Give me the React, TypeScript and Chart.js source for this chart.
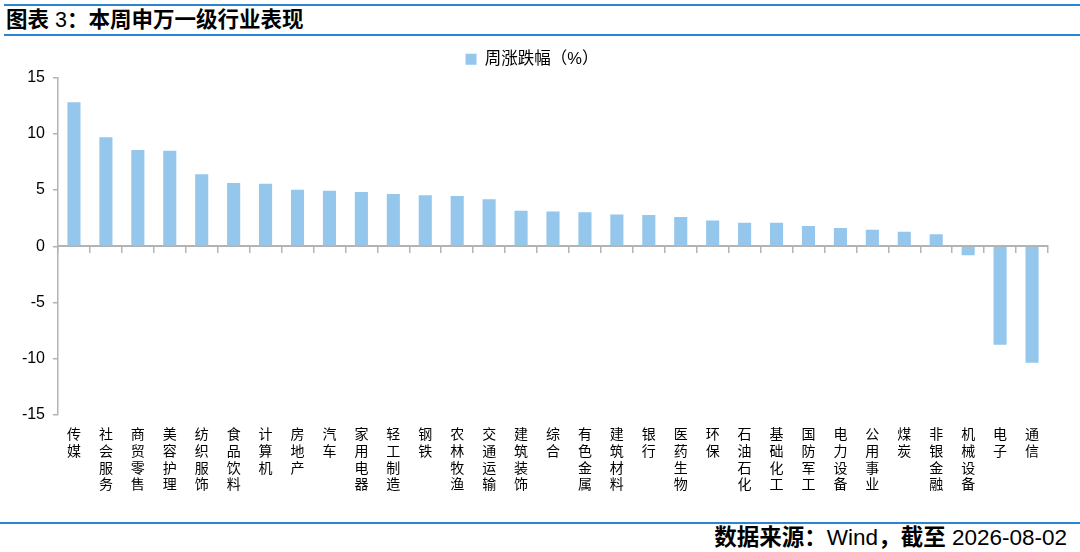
import React, { useEffect, useRef } from 'react';
import { Chart, registerables } from 'chart.js';

Chart.register(...registerables);

const categories = ['传媒', '社会服务', '商贸零售', '美容护理', '纺织服饰', '食品饮料', '计算机', '房地产', '汽车', '家用电器', '轻工制造', '钢铁', '农林牧渔', '交通运输', '建筑装饰', '综合', '有色金属', '建筑材料', '银行', '医药生物', '环保', '石油石化', '基础化工', '国防军工', '电力设备', '公用事业', '煤炭', '非银金融', '机械设备', '电子', '通信'];
const weeklyChange = [12.8, 9.68, 8.56, 8.5, 6.41, 5.62, 5.56, 5.03, 4.94, 4.83, 4.65, 4.54, 4.47, 4.18, 3.15, 3.09, 3.03, 2.82, 2.77, 2.59, 2.29, 2.09, 2.08, 1.8, 1.62, 1.47, 1.3, 1.06, -0.79, -8.76, -10.35];
const yTicks = [-15, -10, -5, 0, 5, 10, 15];
const seriesName = '周涨跌幅（%）';
const titleText = '图表 3：本周申万一级行业表现';
const sourceText = '数据来源：Wind，截至 2026-08-02';

const FONT = '"Liberation Sans", "Noto Sans CJK SC", sans-serif';
const BLUE = '#2a86d2';
const AXIS = '#b3b3b3';

function MixedText({ text }: { text: string }) {
  const parts = text.split(/([\u3000-\u9fff\uff00-\uffef]+)/).filter((p) => p.length > 0);
  return (
    <>
      {parts.map((p, i) => (
        <span key={i} style={{ fontWeight: /[\u3000-\u9fff\uff00-\uffef]/.test(p) ? 'bold' : 'normal' }}>
          {p}
        </span>
      ))}
    </>
  );
}

export default function App() {
  const canvasRef = useRef<HTMLCanvasElement | null>(null);

  useEffect(() => {
    document.body.style.margin = '0';
    const canvas = canvasRef.current;
    if (!canvas) return;
    Chart.defaults.font.family = FONT;
    const chart = new Chart(canvas, {
      type: 'bar',
      data: {
        labels: categories.map((c) => Array.from(c)),
        datasets: [
          {
            label: seriesName,
            data: weeklyChange,
            backgroundColor: '#95c6ec',
            borderWidth: 0,
            barPercentage: 0.41,
            categoryPercentage: 1,
            xAxisID: 'x',
            yAxisID: 'y',
          },
        ],
      },
      options: {
        responsive: false,
        animation: false,
        devicePixelRatio: 1,
        layout: { padding: { left: 16, right: 32, top: 1, bottom: 0 } },
        plugins: {
          legend: {
            display: true,
            position: 'top',
            labels: {
              boxWidth: 11,
              boxHeight: 11,
              padding: 10,
              color: '#000',
              font: { size: 16.5, family: FONT },
            },
          },
          tooltip: { enabled: false },
        },
        scales: {
          x: {
            type: 'category',
            position: 'bottom',
            offset: true,
            grid: { display: false, drawTicks: false },
            border: { display: false },
            ticks: {
              color: '#000',
              font: { size: 14, lineHeight: 1.19, family: FONT },
              padding: 12,
              maxRotation: 0,
              minRotation: 0,
              autoSkip: false,
            },
            afterFit: (s: any) => {
              s.height = 105;
            },
          },
          x2: {
            type: 'category',
            position: { y: 0 } as any,
            offset: true,
            grid: {
              offset: true,
              drawOnChartArea: false,
              drawTicks: true,
              tickLength: 6,
              color: AXIS,
              lineWidth: 1.5,
            },
            border: { display: true, color: AXIS, width: 2 },
            ticks: { display: false },
          },
          y: {
            type: 'linear',
            min: -15,
            max: 15,
            afterBuildTicks: (s: any) => {
              s.ticks = yTicks.map((v) => ({ value: v }));
            },
            ticks: {
              color: '#000',
              font: { size: 16, family: FONT },
              padding: 8,
            },
            grid: {
              drawOnChartArea: false,
              drawTicks: true,
              tickLength: 5,
              color: AXIS,
              lineWidth: 1.5,
            },
            border: { display: true, color: AXIS, width: 1.5 },
            afterFit: (s: any) => {
              s.width = 42;
            },
          },
        },
      },
    });
    return () => chart.destroy();
  }, []);

  return (
    <div
      style={{
        position: 'absolute',
        left: 0,
        top: 0,
        width: 1080,
        height: 552,
        background: '#fff',
        overflow: 'hidden',
        fontFamily: FONT,
      }}
    >
      <div style={{ position: 'absolute', left: 4, right: 0, top: 4, height: 0, borderTop: `2px solid ${BLUE}` }} />
      <div
        style={{
          position: 'absolute',
          left: 6,
          top: 8,
          fontSize: 21.5,
          lineHeight: '24px',
          color: '#000',
          whiteSpace: 'nowrap',
        }}
      >
        <MixedText text={titleText} />
      </div>
      <div style={{ position: 'absolute', left: 4, right: 0, top: 34, height: 0, borderTop: `2px solid ${BLUE}` }} />
      <div style={{ position: 'absolute', left: 0, top: 40, width: 1080, height: 480 }}>
        <canvas ref={canvasRef} width={1080} height={480} style={{ width: 1080, height: 480, display: 'block' }} />
      </div>
      <div style={{ position: 'absolute', left: 0, right: 0, top: 522, height: 0, borderTop: `2px solid ${BLUE}` }} />
      <div
        style={{
          position: 'absolute',
          right: 13,
          top: 525,
          fontSize: 22.5,
          lineHeight: '26px',
          color: '#000',
          whiteSpace: 'nowrap',
        }}
      >
        <MixedText text={sourceText} />
      </div>
    </div>
  );
}
